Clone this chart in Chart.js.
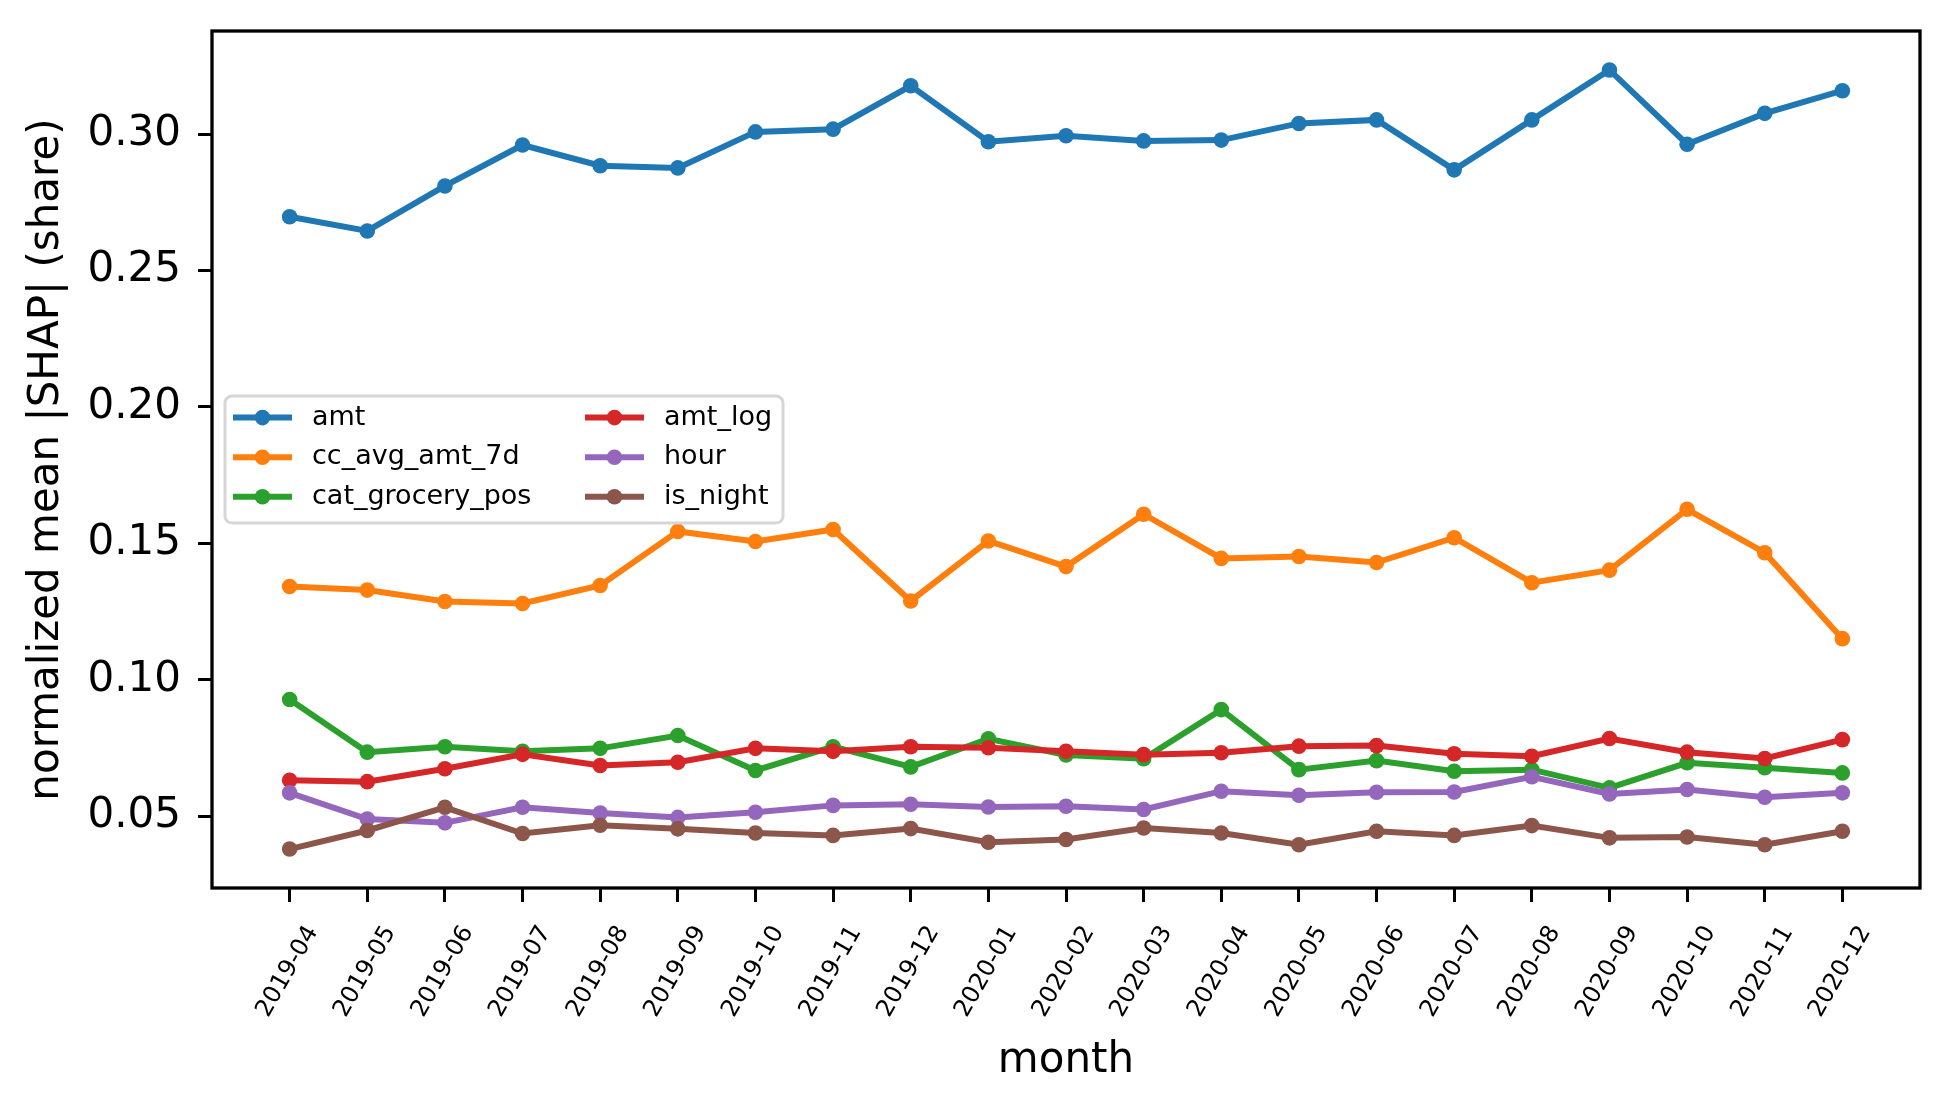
<!DOCTYPE html>
<html>
<head>
<meta charset="utf-8">
<script src="https://cdn.jsdelivr.net/npm/chart.js@4.4.0/dist/chart.umd.min.js"></script>
<style>
  html, body { margin: 0; padding: 0; background: #fff; }
  #wrap { width: 1950px; height: 1109px; }
</style>
</head>
<body>
<div id="wrap"><canvas id="shapChart" width="1950" height="1109"></canvas></div>
<script>
// months on the x axis
const months = [
  "2019-04", "2019-05", "2019-06", "2019-07", "2019-08", "2019-09", "2019-10",
  "2019-11", "2019-12", "2020-01", "2020-02", "2020-03", "2020-04", "2020-05",
  "2020-06", "2020-07", "2020-08", "2020-09", "2020-10", "2020-11", "2020-12",
];

// normalized mean |SHAP| share per feature
const amt = [0.2697, 0.2645, 0.2810, 0.2960, 0.2884, 0.2876, 0.3008, 0.3018, 0.3177, 0.2972, 0.2994,
  0.2975, 0.2978, 0.3039, 0.3052, 0.2869, 0.3052, 0.3235, 0.2963, 0.3076, 0.3159];
const ccAvgAmt7d = [0.1342, 0.1329, 0.1287, 0.1280, 0.1346, 0.1544, 0.1507, 0.1551, 0.1289, 0.1509, 0.1415,
  0.1607, 0.1445, 0.1452, 0.1430, 0.1521, 0.1356, 0.1402, 0.1625, 0.1466, 0.1151];
const catGroceryPos = [0.0928, 0.0735, 0.0755, 0.0738, 0.0749, 0.0796, 0.0668, 0.0755, 0.0681, 0.0784, 0.0725,
  0.0711, 0.0891, 0.0671, 0.0704, 0.0665, 0.0671, 0.0604, 0.0696, 0.0678, 0.0659];
const amtLog = [0.0632, 0.0627, 0.0674, 0.0727, 0.0686, 0.0698, 0.0749, 0.0738, 0.0755, 0.0751, 0.0738,
  0.0726, 0.0733, 0.0757, 0.0759, 0.0729, 0.0720, 0.0785, 0.0735, 0.0712, 0.0781];
const hour = [0.0586, 0.0490, 0.0476, 0.0533, 0.0512, 0.0496, 0.0515, 0.0540, 0.0544, 0.0534, 0.0537,
  0.0525, 0.0592, 0.0577, 0.0588, 0.0589, 0.0645, 0.0582, 0.0598, 0.0570, 0.0586];
const isNight = [0.0380, 0.0448, 0.0533, 0.0437, 0.0467, 0.0454, 0.0439, 0.0430, 0.0455, 0.0405, 0.0415,
  0.0457, 0.0439, 0.0396, 0.0445, 0.0430, 0.0466, 0.0421, 0.0424, 0.0396, 0.0445];

const seriesNames = ["amt", "cc_avg_amt_7d", "cat_grocery_pos", "amt_log", "hour", "is_night"];
const seriesValues = [amt, ccAvgAmt7d, catGroceryPos, amtLog, hour, isNight];
const seriesColors = ["#1f77b4", "#ff7f0e", "#2ca02c", "#d62728", "#9467bd", "#8c564b"];

const yTickValues = [0.05, 0.10, 0.15, 0.20, 0.25, 0.30];

// matplotlib-like 5% margins
const allVals = seriesValues.flat();
const dMin = Math.min(...allVals), dMax = Math.max(...allVals);
const yPad = (dMax - dMin) * 0.05;

Chart.defaults.font.family = "'DejaVu Sans', sans-serif";
Chart.defaults.color = "#000";

const datasets = seriesNames.map((name, i) => ({
  label: name,
  data: seriesValues[i].map((v, j) => ({ x: j, y: v })),
  borderColor: seriesColors[i],
  backgroundColor: seriesColors[i],
  pointBackgroundColor: seriesColors[i],
  borderWidth: 6,
  pointRadius: 7.8,
  pointBorderWidth: 0,
  tension: 0,
  order: seriesNames.length - i, // later series on top
}));

// frame + matplotlib style legend inside the axes (center left)
const frameLegend = {
  id: "frameLegend",
  afterDatasetsDraw(chart) {
    const { ctx, chartArea: a } = chart;
    ctx.save();
    ctx.strokeStyle = "#000";
    ctx.lineWidth = 3.3;
    ctx.strokeRect(a.left, a.top, a.right - a.left, a.bottom - a.top);

    const bw = 558, bh = 127;
    const bx = a.left + 13;
    const by = (a.top + a.bottom) / 2 - bh / 2;
    ctx.beginPath();
    ctx.roundRect(bx, by, bw, bh, 7);
    ctx.fillStyle = "rgba(255,255,255,0.8)";
    ctx.fill();
    ctx.strokeStyle = "#d6d6d6";
    ctx.lineWidth = 3;
    ctx.stroke();

    ctx.font = "27px 'DejaVu Sans'";
    ctx.textBaseline = "middle";
    ctx.textAlign = "left";
    seriesNames.forEach((name, i) => {
      const col = Math.floor(i / 3), row = i % 3;
      const x0 = bx + 8 + col * 352;
      const y = by + 21.6 + row * 39.6;
      ctx.strokeStyle = seriesColors[i];
      ctx.lineWidth = 6;
      ctx.beginPath();
      ctx.moveTo(x0, y);
      ctx.lineTo(x0 + 59, y);
      ctx.stroke();
      ctx.fillStyle = seriesColors[i];
      ctx.beginPath();
      ctx.arc(x0 + 29.5, y, 7.8, 0, Math.PI * 2);
      ctx.fill();
      ctx.fillStyle = "#000";
      ctx.fillText(name, x0 + 79, y);
    });
    ctx.restore();
  },
};

const ctx = document.getElementById("shapChart").getContext("2d");
const chart = new Chart(ctx, {
  type: "line",
  data: { datasets: datasets },
  options: {
    responsive: false,
    animation: false,
    devicePixelRatio: 1,
    layout: { padding: { top: 31, right: 30, left: 0, bottom: 0 } },
    plugins: {
      legend: { display: false },
      tooltip: { enabled: false },
    },
    scales: {
      x: {
        type: "linear",
        min: -1,
        max: months.length,
        afterBuildTicks: (scale) => {
          scale.ticks = months.map((m, i) => ({ value: i }));
        },
        afterFit: (scale) => {
          scale.height = 1109 - 888;
          scale.paddingLeft = 0;
          scale.paddingRight = 0;
        },
        ticks: {
          autoSkip: false,
          minRotation: 60,
          maxRotation: 60,
          labelOffset: 23,
          padding: 19,
          font: { size: 24 },
          callback: (v) => months[v],
        },
        grid: {
          drawOnChartArea: false,
          drawTicks: true,
          tickLength: 14,
          color: "#000",
          lineWidth: 3,
        },
        border: { display: false },
        title: {
          display: true,
          text: "month",
          font: { size: 42 },
          padding: { top: 0, bottom: 23 },
        },
      },
      y: {
        min: dMin - yPad,
        max: dMax + yPad,
        afterBuildTicks: (scale) => {
          scale.ticks = yTickValues.map((v) => ({ value: v }));
        },
        afterFit: (scale) => {
          scale.width = 212;
          scale.paddingTop = 0;
          scale.paddingBottom = 0;
        },
        ticks: {
          padding: 17,
          font: { size: 42 },
          callback: (v) => v.toFixed(2),
        },
        grid: {
          drawOnChartArea: false,
          drawTicks: true,
          tickLength: 14,
          color: "#000",
          lineWidth: 3,
        },
        border: { display: false },
        title: {
          display: true,
          text: "normalized mean |SHAP| (share)",
          font: { size: 42 },
          padding: { top: 22, bottom: 0 },
        },
      },
    },
  },
  plugins: [frameLegend],
});
</script>
</body>
</html>
